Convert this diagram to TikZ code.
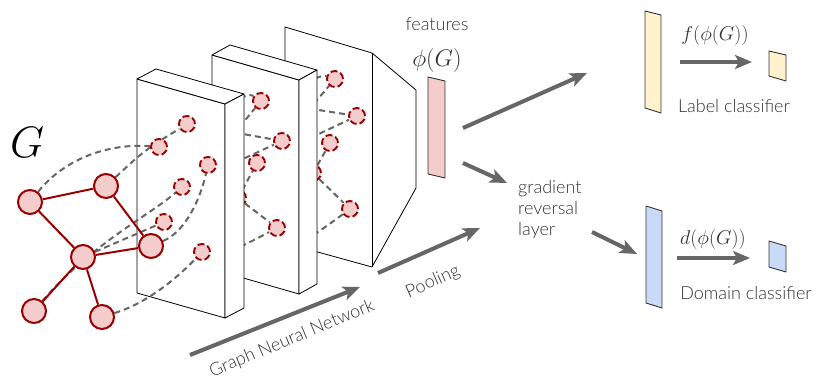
\RequirePackage{fix-cm}
\documentclass[tikz,border=0pt]{standalone}
\usepackage{fontspec}
\setmainfont{Lato}[UprightFont=* Light]
\usetikzlibrary{arrows.meta}

\definecolor{edgered}{HTML}{990000}
\definecolor{nodepink}{HTML}{F4CCCC}
\definecolor{linkgray}{HTML}{666666}
\definecolor{labelyellow}{HTML}{FFF2CC}
\definecolor{domainblue}{HTML}{C9DAF8}
\definecolor{txt}{HTML}{333333}

% back-to-front drawing order of the three stacked layers
\pgfdeclarelayer{pface}
\pgfdeclarelayer{plinks}
\pgfdeclarelayer{pnodes}
\pgfdeclarelayer{sface}
\pgfdeclarelayer{slinks}
\pgfdeclarelayer{snodes}
\pgfdeclarelayer{fface}
\pgfdeclarelayer{flinks}
\pgfdeclarelayer{fnodes}
\pgfdeclarelayer{gedges}
\pgfsetlayers{pface,plinks,pnodes,sface,slinks,snodes,fface,flinks,fnodes,gedges,main}

\begin{document}
\begin{tikzpicture}[x=1pt, y=-1pt,
  gnode/.style={circle, draw=edgered, fill=nodepink, line width=2pt, minimum size=24pt, inner sep=0pt},
  hnode/.style={circle, draw=edgered, fill=nodepink, line width=1.9pt, dash pattern=on 7pt off 3pt, minimum size=16pt, inner sep=0pt},
  gedge/.style={edgered, line width=2pt},
  link/.style={linkgray, line width=2pt, dash pattern=on 6pt off 4pt},
  slab/.style={draw=black, fill=white, line width=0.8pt, line join=round},
  bar/.style={draw=black!80, line width=0.9pt, line join=round},
  flow/.style={linkgray, line width=4pt, -{Stealth[length=17pt, width=14pt, inset=4pt]}},
  lbl/.style={text=txt, font=\fontsize{18}{21}\selectfont, inner sep=0pt}
]
\useasboundingbox (0,0) rectangle (819,379);

% ---------- pooling panel ----------
\begin{pgfonlayer}{pface}
  \draw[slab] (285,27) -- (372,53) -- (416,90) -- (416,188) -- (372,267) -- (285,243) -- cycle;
  \draw[slab] (372,53) -- (372,267);
\end{pgfonlayer}
\begin{pgfonlayer}{pnodes}
  \node[hnode] (c1) at (335,79) {};
  \node[hnode] (c2) at (357,116) {};
  \node[hnode] (c3) at (330,143) {};
  \node[hnode] (c4) at (313,173) {};
  \node[hnode] (c5) at (350,209) {};
\end{pgfonlayer}

% ---------- second GNN layer ----------
\begin{pgfonlayer}{sface}
  \draw[slab] (212,55) -- (299,80) -- (299,294) -- (212,269) -- cycle;
  \draw[slab] (212,55) -- (230,45) -- (317,70) -- (299,80) -- cycle;
  \draw[slab] (299,80) -- (317,70) -- (317,284) -- (299,294) -- cycle;
\end{pgfonlayer}
\begin{pgfonlayer}{snodes}
  \node[hnode] (b1) at (261,101) {};
  \node[hnode] (b2) at (282,141) {};
  \node[hnode] (b3) at (257,163) {};
  \node[hnode] (b4) at (238,198) {};
  \node[hnode] (b5) at (277,228) {};
\end{pgfonlayer}

% ---------- first GNN layer ----------
\begin{pgfonlayer}{fface}
  \draw[slab] (137,79) -- (225,104) -- (225,318) -- (137,293) -- cycle;
  \draw[slab] (137,79) -- (156,69) -- (244,94) -- (225,104) -- cycle;
  \draw[slab] (225,104) -- (244,94) -- (244,308) -- (225,318) -- cycle;
\end{pgfonlayer}
\begin{pgfonlayer}{fnodes}
  \node[hnode] (a1) at (187,124) {};
  \node[hnode] (a2) at (159,147) {};
  \node[hnode] (a3) at (208,165) {};
  \node[hnode] (a4) at (182,187) {};
  \node[hnode] (a5) at (164,222) {};
  \node[hnode] (a6) at (202,252) {};
\end{pgfonlayer}

% ---------- input graph ----------
\node[gnode] (n1) at (30,202) {};
\node[gnode] (n2) at (106,186) {};
\node[gnode] (n3) at (83,257) {};
\node[gnode] (n4) at (151,246) {};
\node[gnode] (n5) at (34,311) {};
\node[gnode] (n6) at (102,317) {};
\begin{pgfonlayer}{gedges}
  \draw[gedge] (n1) -- (n2);
  \draw[gedge] (n1) -- (n3);
  \draw[gedge] (n2) -- (n4);
  \draw[gedge] (n3) -- (n4);
  \draw[gedge] (n3) -- (n5);
  \draw[gedge] (n3) -- (n6);
\end{pgfonlayer}

% ---------- message links ----------
\begin{pgfonlayer}{flinks}
  \draw[link] (n1) .. controls (65,158) and (110,143) .. (a2);
  \draw[link] (n2) .. controls (145,150) .. (a1);
  \draw[link] (n5) .. controls (90,245) and (150,215) .. (a4);
  \draw[link] (n3) -- (a5);
  \draw[link] (n4) .. controls (185,232) and (200,200) .. (a3);
  \draw[link] (n6) .. controls (150,302) and (180,275) .. (a6);
\end{pgfonlayer}
\begin{pgfonlayer}{slinks}
  \draw[link] (a1) .. controls (226,104) and (248,92) .. (b1);
  \draw[link] (a3) -- (b1);
  \draw[link] (a1) -- (b2);
  \draw[link] (a4) -- (b2);
  \draw[link] (a5) -- (b4);
  \draw[link] (b4) -- (b3);
  \draw[link] (b4) -- (b5);
  \draw[link] (a6) .. controls (235,250) .. (b5);
\end{pgfonlayer}
\begin{pgfonlayer}{plinks}
  \draw[link] (b1) .. controls (300,85) and (322,74) .. (c1);
  \draw[link] (b2) -- (c1);
  \draw[link] (b1) -- (c2);
  \draw[link] (b3) -- (c2);
  \draw[link] (b5) -- (c4);
  \draw[link] (c4) -- (c3);
  \draw[link] (c4) -- (c5);
  \draw[link] (b5) .. controls (305,242) .. (c5);
\end{pgfonlayer}

% ---------- feature and classifier bars ----------
\draw[bar, fill=nodepink] (428,77) -- (445,81) -- (445,178) -- (428,174) -- cycle;
\draw[bar, fill=labelyellow] (645,11) -- (661,15) -- (661,113) -- (645,108) -- cycle;
\draw[bar, fill=labelyellow] (769,51) -- (786,55) -- (786,81) -- (769,76) -- cycle;
\draw[bar, fill=domainblue] (646,206) -- (662,211) -- (662,308) -- (646,303) -- cycle;
\draw[bar, fill=domainblue] (769,241) -- (786,246) -- (786,272) -- (769,267) -- cycle;

% ---------- flow arrows ----------
\coordinate (fo1) at (463,128);  \coordinate (lc) at (587,73);
\coordinate (fo2) at (463,163);  \coordinate (gr) at (507,183);
\coordinate (gr2) at (592,232);  \coordinate (dc) at (637,254);
\coordinate (gnnA) at (190,355); \coordinate (gnnB) at (360,287);
\coordinate (poolA) at (378,273); \coordinate (poolB) at (480,228);
\coordinate (lcA) at (680,62);   \coordinate (lcB) at (752,62);
\coordinate (dcA) at (677,258);  \coordinate (dcB) at (750,258);
\draw[flow] (fo1) -- (lc);
\draw[flow] (fo2) -- (gr);
\draw[flow] (gr2) -- (dc);
\draw[flow] (gnnA) -- (gnnB);
\draw[flow] (poolA) -- (poolB);
\draw[flow] (lcA) -- (lcB);
\draw[flow] (dcA) -- (dcB);

% ---------- labels ----------
\node[lbl, text=black, font=\fontsize{44}{50}\selectfont] (glbl) at (27,142) {$G$};
\node[lbl] (featlbl) at (437,24) {features};
\node[lbl, font=\fontsize{24}{28}\selectfont] (philbl) at (437,61) {$\phi(G)$};
\node[lbl, font=\fontsize{20}{24}\selectfont] (flbl) at (715,36) {$f(\phi(G))$};
\node[lbl] (lclbl) at (734,106) {Label classifier};
\node[lbl, font=\fontsize{20}{24}\selectfont] (dlbl) at (713,240) {$d(\phi(G))$};
\node[lbl] (dclbl) at (746,293) {Domain classifier};
\node[lbl, align=left, anchor=west] (grl) at (518,210) {gradient\\reversal\\layer};
\node[lbl, rotate=24] (poollbl) at (433,282) {Pooling};
\node[lbl, rotate=22.5] (gnnlbl) at (292,339) {Graph Neural Network};
\end{tikzpicture}
\end{document}
